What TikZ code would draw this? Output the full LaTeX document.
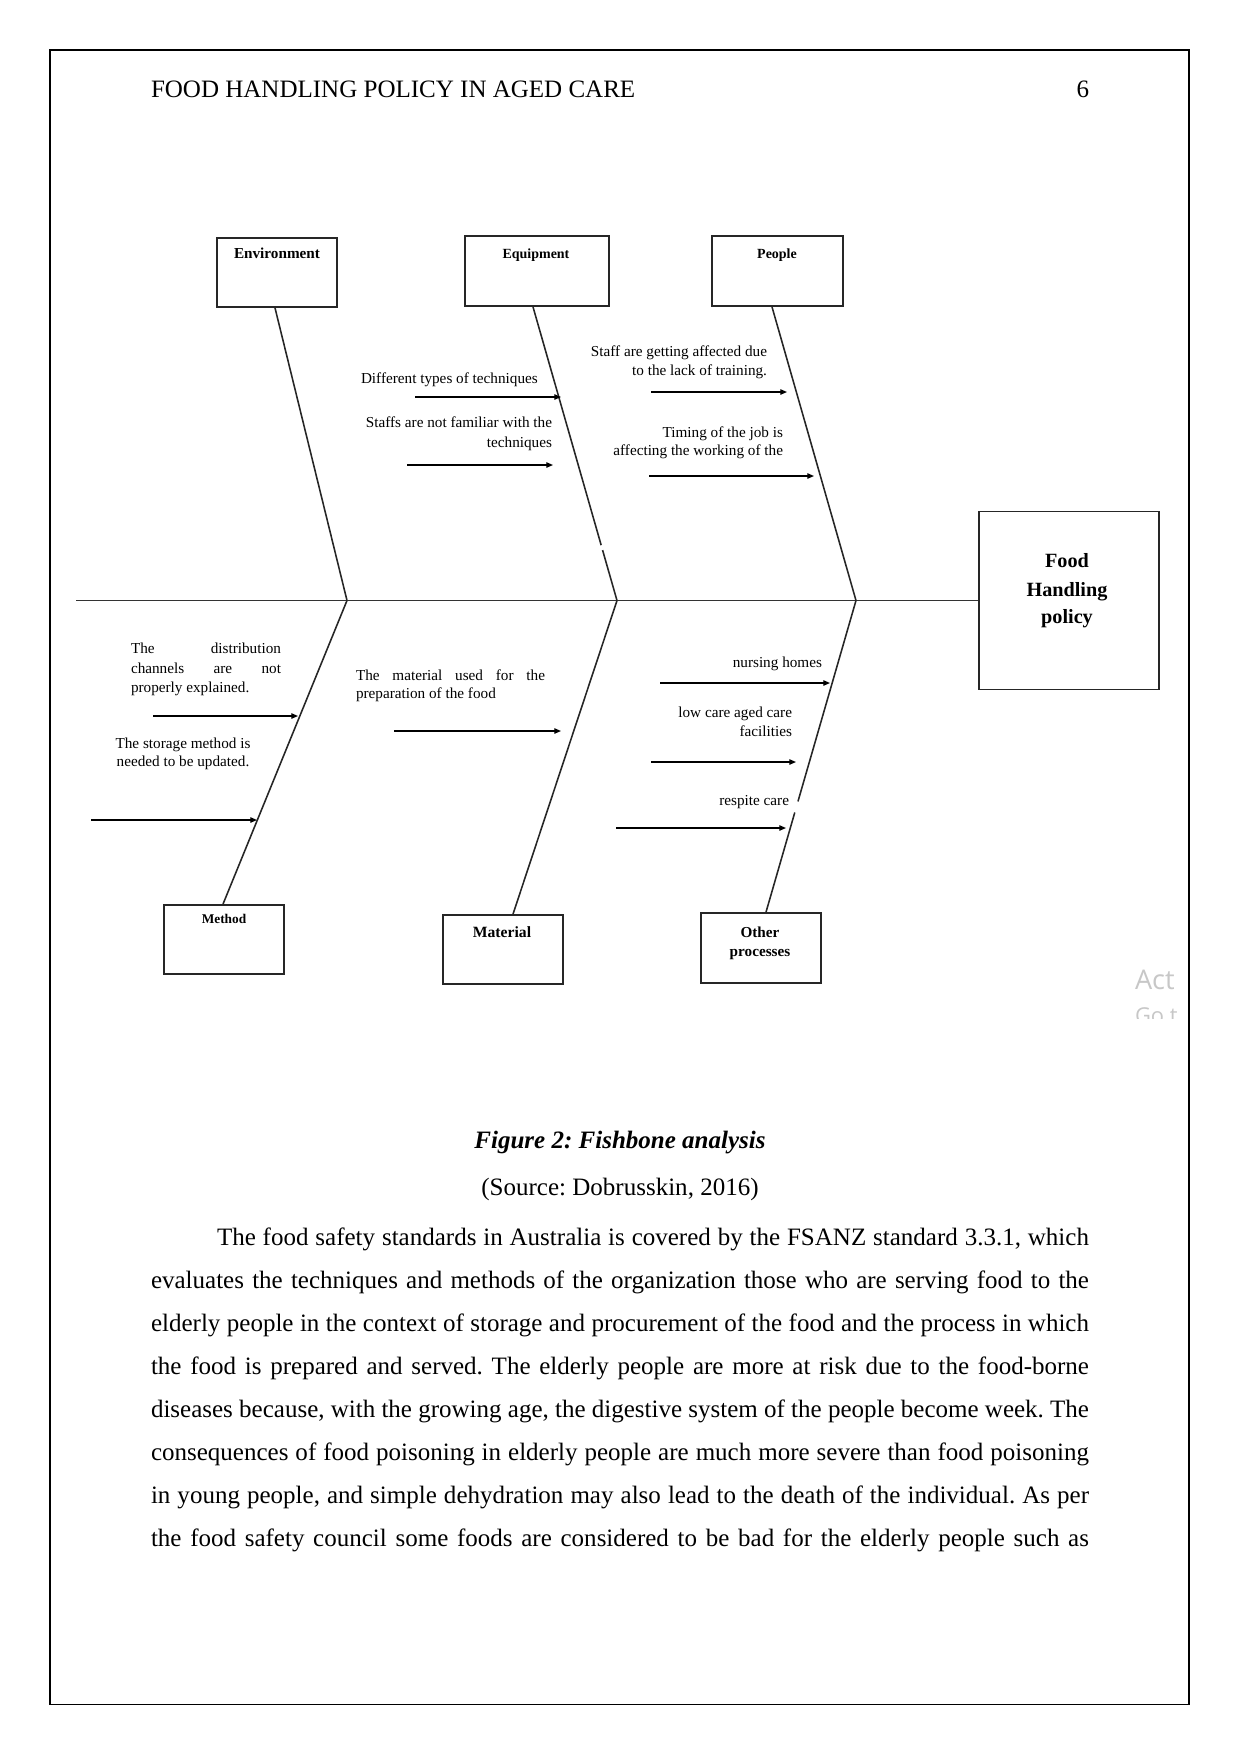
\documentclass[tikz,border=0pt]{standalone}
\usepackage{fontspec}
\setmainfont{Liberation Serif}
\newfontfamily\wmfont{Open Sans}
\usetikzlibrary{arrows.meta,calc}
\frenchspacing
\begin{document}
\begin{tikzpicture}[x=0.47967pt,y=-0.47967pt,
  bone/.style={draw=black!85, line width=0.75pt},
  spine/.style={draw=black!80, line width=0.9pt},
  catbox/.style={draw=black!85, line width=0.85pt, rectangle, inner sep=0pt, fill=none},
  cause/.style={draw=black, line width=0.6pt, -{Triangle[length=3.2pt,width=2.6pt]}},
  txt/.style={inner sep=0pt, outer sep=0pt},
  lbl/.style={txt, font=\fontsize{7.3}{9}\selectfont},
  boxlbl/.style={txt, font=\fontsize{7.3}{9}\selectfont\bfseries},
  body/.style={txt, font=\fontsize{12}{14}\selectfont},
  gap/.style={draw=white, line width=2pt}
]
\useasboundingbox (0,0) rectangle (1241,1754);
\fill[white] (0,0) rectangle (1241,1754);
% page frame
\draw[line width=0.5pt] (50,50) rectangle (1189,1704);

% header
\node[body, anchor=base west] (hdr) at (151,97) {FOOD HANDLING POLICY IN AGED CARE};
\node[body, anchor=base east] (pgno) at (1089,97) {6};

% category boxes
\node[catbox, minimum width=57.56pt, minimum height=33.10pt] (env) at (277,272.5) {};
\node[catbox, minimum width=69.07pt, minimum height=33.58pt] (equip) at (537,271) {};
\node[catbox, minimum width=62.84pt, minimum height=33.58pt] (people) at (777.5,271) {};
\node[catbox, minimum width=57.56pt, minimum height=33.10pt] (method) at (224,939.5) {};
\node[catbox, minimum width=57.56pt, minimum height=33.10pt] (material) at (503,949.5) {};
\node[catbox, minimum width=57.56pt, minimum height=33.58pt] (other) at (761,948) {};
\node[catbox, minimum width=86.34pt, minimum height=85.38pt] (food) at (1069,600.5) {};

% box labels
\node[boxlbl, anchor=base] (envT) at (277,258) {Environment};
\node[boxlbl, anchor=base, font=\fontsize{6.7}{8}\selectfont\bfseries] (equipT) at (536,258) {Equipment};
\node[boxlbl, anchor=base, font=\fontsize{6.7}{8}\selectfont\bfseries] (peopleT) at (777,258) {People};
\node[boxlbl, anchor=base, font=\fontsize{6.4}{8}\selectfont\bfseries] (methodT) at (224,923) {Method};
\node[boxlbl, anchor=base, font=\fontsize{7.5}{9}\selectfont\bfseries] (materialT) at (502,937) {Material};
\node[boxlbl, anchor=base] (otherT1) at (760,937) {Other};
\node[boxlbl, anchor=base] (otherT2) at (760,956) {processes};
\node[boxlbl, anchor=base, font=\fontsize{9.7}{12}\selectfont\bfseries] (foodT1) at (1067,567) {Food};
\node[boxlbl, anchor=base, font=\fontsize{9.7}{12}\selectfont\bfseries] (foodT2) at (1067,596) {Handling};
\node[boxlbl, anchor=base, font=\fontsize{9.7}{12}\selectfont\bfseries] (foodT3) at (1067,623) {policy};

% spine and bones
\coordinate (tail) at (76,600.5);
\coordinate (j1) at (347,600.5);
\coordinate (j2) at (617,600.5);
\coordinate (j3) at (856,600.5);
\coordinate (envB) at ($(env.south)+(-2,0)$);
\coordinate (equipB) at ($(equip.south)+(-4,0)$);
\coordinate (peopleB) at ($(people.south)+(-5.5,0)$);
\coordinate (methodB) at ($(method.north)+(-1,0)$);
\coordinate (materialB) at ($(material.north)+(10,0)$);
\coordinate (otherB) at ($(other.north)+(5,0)$);
\draw[spine] (tail) -- (food.west);
\draw[bone] (envB) -- (j1);
\draw[bone] (equipB) -- (j2);
\draw[bone] (peopleB) -- (j3);
\draw[bone] (j1) -- (methodB);
\draw[bone] (j2) -- (materialB);
\draw[bone] (j3) -- (otherB);
% small breaks in the bones
\draw[gap] ($(equipB)!0.812!(j2)$) -- ($(equipB)!0.828!(j2)$);
\draw[gap] ($(j3)!0.645!(otherB)$) -- ($(j3)!0.68!(otherB)$);

% cause arrows (start / end coordinates)
\coordinate (e1s) at (415,397); \coordinate (e1e) at (561,397);
\coordinate (e2s) at (407,465); \coordinate (e2e) at (553,465);
\coordinate (p1s) at (651,392); \coordinate (p1e) at (787,392);
\coordinate (p2s) at (649,476); \coordinate (p2e) at (814,476);
\coordinate (m1s) at (153,716); \coordinate (m1e) at (298,716);
\coordinate (m2s) at (91,820);  \coordinate (m2e) at (257,820);
\coordinate (a1s) at (394,731); \coordinate (a1e) at (561,731);
\coordinate (o1s) at (660,683); \coordinate (o1e) at (830,683);
\coordinate (o2s) at (651,762); \coordinate (o2e) at (796,762);
\coordinate (o3s) at (616,828); \coordinate (o3e) at (786,828);
\draw[cause] (e1s) -- (e1e);
\draw[cause] (e2s) -- (e2e);
\draw[cause] (p1s) -- (p1e);
\draw[cause] (p2s) -- (p2e);
\draw[cause] (m1s) -- (m1e);
\draw[cause] (m2s) -- (m2e);
\draw[cause] (a1s) -- (a1e);
\draw[cause] (o1s) -- (o1e);
\draw[cause] (o2s) -- (o2e);
\draw[cause] (o3s) -- (o3e);

% cause labels
\node[lbl, anchor=base west] (e1t) at (361,383) {Different types of techniques};
\node[lbl, anchor=base east] (e2ta) at (552,427) {Staffs are not familiar with the};
\node[lbl, anchor=base east] (e2tb) at (552,447) {techniques};
\node[lbl, anchor=base east] (p1ta) at (767,356) {Staff are getting affected due};
\node[lbl, anchor=base east] (p1tb) at (767,375) {to the lack of training.};
\node[lbl, anchor=base east] (p2ta) at (783,437) {Timing of the job is};
\node[lbl, anchor=base east] (p2tb) at (783,455) {affecting the working of the};
\node[lbl, anchor=base west] (m1ta) at (131,653) {\makebox[71.95pt][s]{The distribution}};
\node[lbl, anchor=base west] (m1tb) at (131,673) {\makebox[71.95pt][s]{channels are not}};
\node[lbl, anchor=base west] (m1tc) at (131,692) {properly explained.};
\node[lbl, anchor=base] (m2ta) at (183,748) {The storage method is};
\node[lbl, anchor=base] (m2tb) at (183,766) {needed to be updated.};
\node[lbl, anchor=base west] (a1ta) at (356,680) {\makebox[90.66pt][s]{The material used for the}};
\node[lbl, anchor=base west] (a1tb) at (356,698) {preparation of the food};
\node[lbl, anchor=base east] (o1t) at (822,667) {nursing homes};
\node[lbl, anchor=base east] (o2ta) at (792,717) {low care aged care};
\node[lbl, anchor=base east] (o2tb) at (792,736) {facilities};
\node[lbl, anchor=base east] (o3t) at (789,805) {respite care};

% watermark
\node[txt, anchor=base west, font=\wmfont\fontsize{13}{15}\selectfont, text=black!22] (wm1) at (1135,989) {Act};
\begin{scope}
\clip (1100,995) rectangle (1188,1018);
\node[txt, anchor=base west, font=\wmfont\fontsize{10.5}{12}\selectfont, text=black!22] (wm2) at (1135,1023) {Go t};
\end{scope}

% caption
\node[body, anchor=base, font=\fontsize{12}{14}\selectfont\bfseries\itshape] (cap) at (620,1148) {Figure 2: Fishbone analysis};
\node[body, anchor=base] (src) at (620,1195) {(Source: Dobrusskin, 2016)};

% body text
\node[body, anchor=base west] (l1) at (217,1245) {\makebox[418.27pt][s]{The food safety standards in Australia is covered by the FSANZ standard 3.3.1, which}};
\node[body, anchor=base west] (l2) at (151,1288) {\makebox[449.93pt][s]{evaluates the techniques and methods of the organization those who are serving food to the}};
\node[body, anchor=base west] (l3) at (151,1331) {\makebox[449.93pt][s]{elderly people in the context of storage and procurement of the food and the process in which}};
\node[body, anchor=base west] (l4) at (151,1374) {\makebox[449.93pt][s]{the food is prepared and served. The elderly people are more at risk due to the food-borne}};
\node[body, anchor=base west] (l5) at (151,1417) {\makebox[449.93pt][s]{diseases because, with the growing age, the digestive system of the people become week. The}};
\node[body, anchor=base west] (l6) at (151,1460) {\makebox[449.93pt][s]{consequences of food poisoning in elderly people are much more severe than food poisoning}};
\node[body, anchor=base west] (l7) at (151,1503) {\makebox[449.93pt][s]{in young people, and simple dehydration may also lead to the death of the individual. As per}};
\node[body, anchor=base west] (l8) at (151,1546) {\makebox[449.93pt][s]{the food safety council some foods are considered to be bad for the elderly people such as}};
\end{tikzpicture}
\end{document}
